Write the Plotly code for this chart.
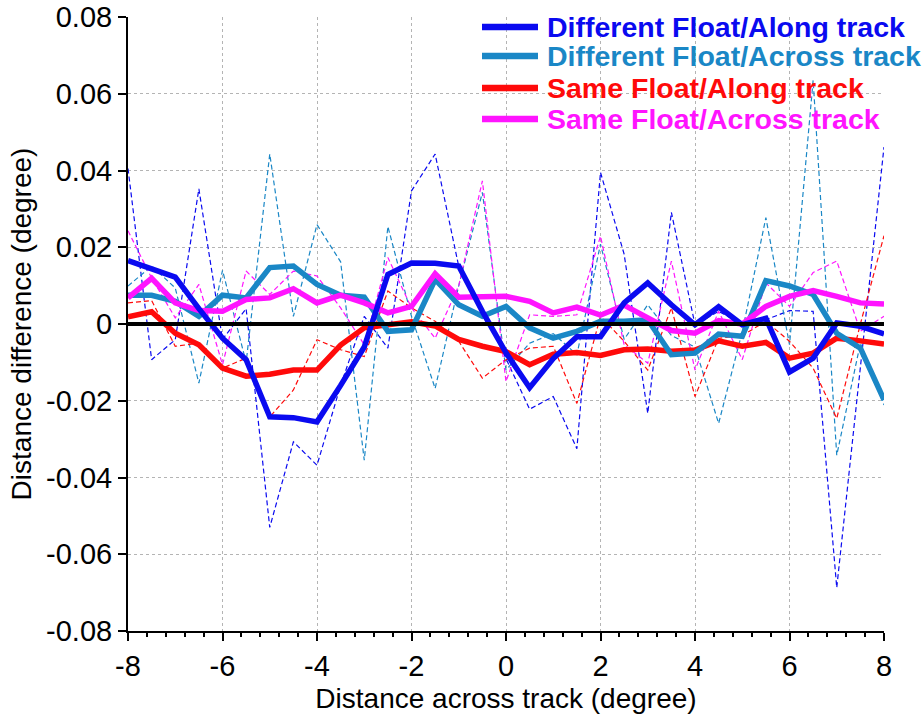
import plotly.graph_objects as go

# Across-track distance (degree)
x = [-8, -7.5, -7, -6.5, -6, -5.5, -5, -4.5, -4, -3.5, -3, -2.5, -2, -1.5, -1, -0.5,
     0, 0.5, 1, 1.5, 2, 2.5, 3, 3.5, 4, 4.5, 5, 5.5, 6, 6.5, 7, 7.5, 8]

# Raw distance differences (thin dashed lines)
diff_along_raw = [0.0405, -0.0093, -0.0041, 0.0352, -0.0040, 0.0040, -0.0530, -0.0307, -0.0368,
                  -0.0160, 0.0020, -0.0063, 0.0347, 0.0443, 0.0150, 0.0040, -0.0090, -0.0222,
                  -0.0189, -0.0325, 0.0395, 0.0182, -0.0233, 0.0291, -0.0002, 0.0033, 0.0000,
                  0.0011, 0.0035, 0.0033, -0.0687, -0.0110, 0.0461]
diff_across_raw = [0.0099, 0.0151, 0.0094, -0.0154, 0.0140, -0.0100, 0.0443, 0.0020, 0.0259,
                   0.0162, -0.0355, 0.0254, 0.0020, -0.0168, 0.0100, 0.0343, -0.0120, -0.0050,
                   -0.0025, -0.0080, 0.0208, -0.0040, 0.0050, -0.0030, -0.0060, -0.0259, -0.0020,
                   0.0277, -0.0054, 0.0635, -0.0342, -0.0050, -0.0211]
same_along_raw = [0.0055, 0.0061, -0.0058, -0.0050, -0.0115, -0.0089, -0.0242, -0.0172, -0.0041,
                  -0.0067, -0.0085, 0.0086, 0.0042, 0.0007, -0.0045, -0.0141, -0.0093, -0.0063,
                  -0.0058, -0.0207, 0.0020, -0.0045, -0.0120, 0.0042, -0.0189, -0.0037, -0.0030,
                  0.0007, -0.0045, -0.0115, -0.0246, 0.0000, 0.0230]
same_across_raw = [0.0243, 0.0120, 0.0016, 0.0103, -0.0106, 0.0138, 0.0077, 0.0138, 0.0125,
                   0.0042, -0.0054, 0.0173, 0.0042, -0.0037, 0.0100, 0.0373, -0.0150, 0.0024,
                   0.0020, 0.0024, 0.0229, -0.0054, -0.0102, 0.0164, -0.0120, 0.0033, -0.0093,
                   0.0107, 0.0046, 0.0134, 0.0164, -0.0019, 0.0020]

# Smoothed distance differences (thick solid lines)
diff_along = [0.0165, 0.0143, 0.0122, 0.0040, -0.0037, -0.0093, -0.0242, -0.0244, -0.0255,
              -0.0160, -0.0060, 0.0129, 0.0159, 0.0158, 0.0151, 0.0033, -0.0075, -0.0166,
              -0.0090, -0.0033, -0.0033, 0.0055, 0.0107, 0.0050, -0.0002, 0.0045, -0.0002,
              0.0015, -0.0125, -0.0089, 0.0003, -0.0006, -0.0026]
diff_across = [0.0075, 0.0075, 0.0059, 0.0020, 0.0075, 0.0068, 0.0147, 0.0151, 0.0103,
               0.0075, 0.0070, -0.0019, -0.0015, 0.0116, 0.0050, 0.0020, 0.0046, -0.0010,
               -0.0037, -0.0019, 0.0007, 0.0007, 0.0011, -0.0080, -0.0076, -0.0026, -0.0032,
               0.0113, 0.0099, 0.0077, -0.0024, -0.0063, -0.0198]
same_along = [0.0019, 0.0032, -0.0024, -0.0054, -0.0115, -0.0136, -0.0131, -0.0120, -0.0120,
              -0.0055, -0.0010, -0.0002, 0.0006, -0.0005, -0.0040, -0.0058, -0.0072, -0.0106,
              -0.0079, -0.0074, -0.0082, -0.0067, -0.0065, -0.0071, -0.0068, -0.0044, -0.0058,
              -0.0048, -0.0089, -0.0076, -0.0037, -0.0044, -0.0052]
same_across = [0.0068, 0.0119, 0.0055, 0.0035, 0.0033, 0.0064, 0.0068, 0.0092, 0.0055,
               0.0075, 0.0055, 0.0029, 0.0046, 0.0131, 0.0070, 0.0070, 0.0072, 0.0059,
               0.0029, 0.0044, 0.0023, 0.0049, 0.0016, -0.0017, -0.0024, 0.0009, 0.0000,
               0.0046, 0.0072, 0.0087, 0.0072, 0.0055, 0.0052]

# Tick labels
x_ticks = [-8, -6, -4, -2, 0, 2, 4, 6, 8]
y_ticks = [-0.08, -0.06, -0.04, -0.02, 0, 0.02, 0.04, 0.06, 0.08]
y_tick_labels = ["-0.08", "-0.06", "-0.04", "-0.02", "0", "0.02", "0.04", "0.06", "0.08"]

series_names = ["Different Float/Along track", "Different Float/Across track",
                "Same Float/Along track", "Same Float/Across track"]
colors = ["#0a0af0", "#1a87c6", "#ff0a0a", "#ff14ff"]
raw = [diff_along_raw, diff_across_raw, same_along_raw, same_across_raw]
smooth = [diff_along, diff_across, same_along, same_across]

fig = go.Figure()

for vals, col in zip(raw, colors):
    fig.add_trace(go.Scatter(x=x, y=vals, mode="lines", showlegend=False,
                             line=dict(color=col, width=1.2, dash="5px,3px")))

draw_order = [2, 1, 3, 0]
for i in draw_order:
    fig.add_trace(go.Scatter(x=x, y=smooth[i], mode="lines", showlegend=False,
                             name=series_names[i],
                             line=dict(color=colors[i], width=5.5)))

# zero reference line
fig.add_shape(type="line", xref="x", yref="y", x0=-8, x1=8, y0=0, y1=0,
              line=dict(color="black", width=4), layer="above")

# legend drawn in the upper right of the plot area
L, R, T, B = 128, 884, 17, 631
def px(v):
    return (v - L) / (R - L)
def py(v):
    return (B - v) / (B - T)

legend_rows = [27, 56, 88, 119]
for name, col, yy in zip(series_names, colors, legend_rows):
    fig.add_shape(type="line", xref="paper", yref="paper",
                  x0=px(482), x1=px(538), y0=py(yy), y1=py(yy),
                  line=dict(color=col, width=6.5), layer="above")
    fig.add_annotation(xref="paper", yref="paper", x=px(545), y=py(yy),
                       xanchor="left", yanchor="middle", showarrow=False,
                       text="<b>%s</b>" % name,
                       font=dict(family="Liberation Sans, Arial", size=28.5, color=col))

tick_font = dict(family="Liberation Sans, Arial", size=29, color="black")
title_font = dict(family="Liberation Sans, Arial", size=28, color="black")
fig.update_layout(
    width=922, height=715,
    margin=dict(l=L, r=922 - R, t=T, b=715 - B, autoexpand=False),
    paper_bgcolor="white", plot_bgcolor="white",
    showlegend=False,
    font=tick_font,
)
fig.update_xaxes(
    range=[-8, 8], tickmode="array", tickvals=x_ticks,
    ticktext=[str(v) for v in x_ticks], automargin=False,
    showline=True, linecolor="black", linewidth=2,
    ticks="outside", ticklen=8, tickwidth=1.5, tickcolor="black",
    showgrid=True, gridcolor="#b4b4b4", griddash="dot", gridwidth=1,
    zeroline=False, tickfont=tick_font,
    minor=dict(tickmode="linear", tick0=-8, dtick=0.4, ticks="outside", ticklen=4,
               tickcolor="black", showgrid=False),
    title=dict(text="Distance across track (degree)", font=title_font, standoff=8),
)
fig.update_yaxes(
    range=[-0.08, 0.08], tickmode="array", tickvals=y_ticks, ticktext=y_tick_labels,
    automargin=False,
    showline=True, linecolor="black", linewidth=2,
    ticks="outside", ticklen=8, tickwidth=1.5, tickcolor="black",
    showgrid=True, gridcolor="#b4b4b4", griddash="dot", gridwidth=1,
    zeroline=False, tickfont=tick_font,
    title=dict(text="Distance difference (degree)", font=title_font, standoff=6),
)

fig.write_html("out.html")
